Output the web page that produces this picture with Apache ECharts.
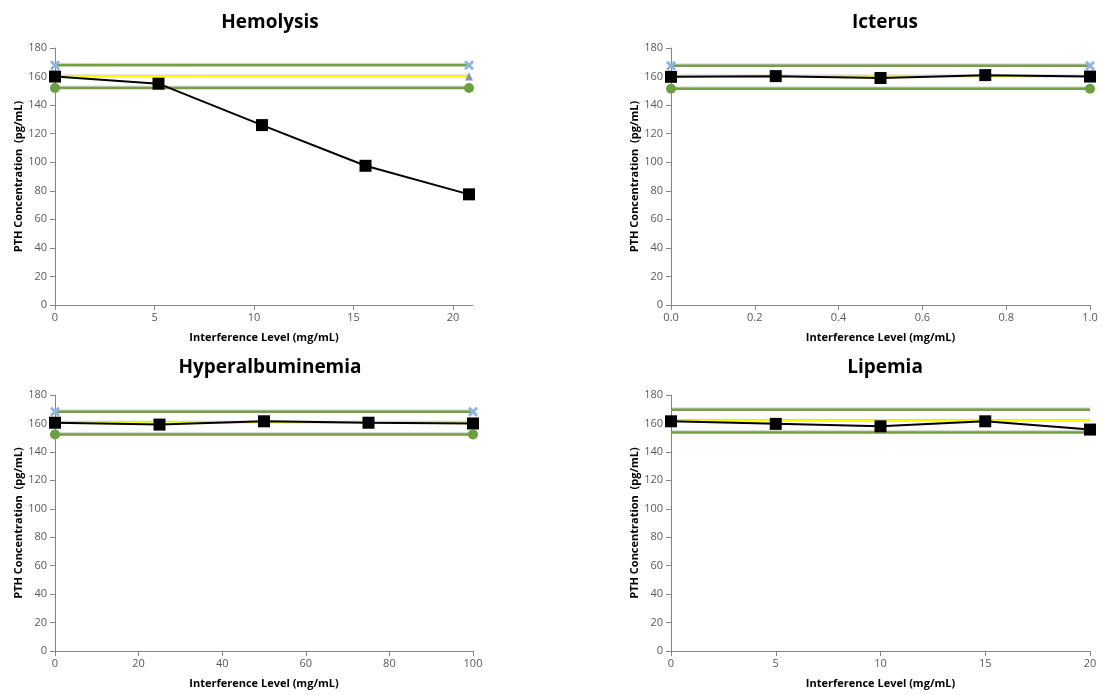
<!DOCTYPE html>
<html>
<head>
<meta charset="utf-8">
<script src="https://cdn.jsdelivr.net/npm/echarts@6/dist/echarts.min.js"></script>
<style>
  html, body { margin: 0; padding: 0; background: #fff; }
  #chart { width: 1103px; height: 695px; }
</style>
</head>
<body>
<div id="chart"></div>
<script>
// panel titles
var titles = ["Hemolysis", "Icterus", "Hyperalbuminemia", "Lipemia"];

// interference levels (x) per panel
var hemoX = [0, 5.2, 10.4, 15.6, 20.8];
var ictX = [0, 0.25, 0.5, 0.75, 1.0];
var albX = [0, 25, 50, 75, 100];
var lipX = [0, 5, 10, 15, 20];

// measured PTH (pg/mL)
var hemoY = [160, 155, 126, 97.5, 77.5];
var ictY = [159.8, 160.3, 159, 161, 160];
var albY = [160.5, 159.2, 161.5, 160.5, 160];
var lipY = [161.5, 159.7, 158, 161.5, 155.7];

// reference lines: upper limit, baseline, lower limit
var hemoRef = [168, 160, 152];
var ictRef = [167.5, 160, 151.5];
var albRef = [168.3, 160.5, 152.3];
var lipRef = [169.6, 161.8, 153.7];

// x-axis ranges [min, max, interval]
var xRanges = [[0, 21, 5], [0, 1, 0.2], [0, 100, 20], [0, 20, 5]];

var chart = echarts.init(document.getElementById("chart"));

var crossSym = "path://M2,0L5,3L8,0L10,2L7,5L10,8L8,10L5,7L2,10L0,8L3,5L0,2Z";

var grids = [
  { left: 55, right: 630, top: 48, bottom: 390 },
  { left: 671, right: 13, top: 48, bottom: 390 },
  { left: 55, right: 630, top: 395, bottom: 44 },
  { left: 671, right: 13, top: 395, bottom: 44 }
];

var labelFont = { color: "#595959", fontSize: 11, fontFamily: "Open Sans" };

function refLine(idx, xs, val, color, width, sym, symColor, symSize, z) {
  var last = xs[xs.length - 1];
  return {
    type: "line",
    xAxisIndex: idx,
    yAxisIndex: idx,
    data: [[xs[0], val], [last, val]],
    symbol: sym || "none",
    symbolSize: symSize || 8,
    showSymbol: !!sym,
    itemStyle: { color: symColor || color },
    lineStyle: {
      color: color,
      width: width,
      shadowColor: "rgba(0,0,0,0.2)",
      shadowBlur: 1,
      shadowOffsetY: -1
    },
    z: z || 2,
    silent: true,
    animation: false
  };
}

function dataLine(idx, xs, ys) {
  return {
    type: "line",
    xAxisIndex: idx,
    yAxisIndex: idx,
    data: xs.map(function (x, i) { return [x, ys[i]]; }),
    symbol: "rect",
    symbolSize: 12,
    itemStyle: { color: "#000" },
    lineStyle: { color: "#000", width: 2 },
    z: 5,
    animation: false
  };
}

var xs = [hemoX, ictX, albX, lipX];
var ys = [hemoY, ictY, albY, lipY];
var refs = [hemoRef, ictRef, albRef, lipRef];

var series = [];
for (var i = 0; i < 4; i++) {
  var r = refs[i];
  var withSym = i !== 3;
  series.push(refLine(i, xs[i], r[0], "#77A046", 2.5, withSym ? crossSym : null, "#8DB4E2", 10, 2));
  series.push(refLine(i, xs[i], r[1], "#FFFF00", 2, i === 0 ? "triangle" : null, "#8497B0", 8, 3));
  series.push(refLine(i, xs[i], r[2], "#77A046", 2.5, withSym ? "circle" : null, "#6AA13F", 10, 2));
  series.push(dataLine(i, xs[i], ys[i]));
}

var option = {
  backgroundColor: "#fff",
  title: titles.map(function (t, i) {
    return {
      text: t,
      left: i % 2 === 0 ? 265 : 880,
      top: i < 2 ? 8 : 353,
      textAlign: "center",
      textStyle: { fontSize: 19, fontWeight: "bold", color: "#000", fontFamily: "Open Sans" }
    };
  }),
  grid: grids,
  xAxis: xRanges.map(function (rg, i) {
    return {
      type: "value",
      gridIndex: i,
      min: rg[0],
      max: rg[1],
      interval: rg[2],
      name: "Interference Level (mg/mL)",
      nameLocation: "middle",
      nameGap: 27,
      nameTextStyle: { fontSize: 11, fontWeight: "bold", color: "#000", fontFamily: "Open Sans" },
      axisLine: { show: true, lineStyle: { color: "#868686", width: 1 } },
      axisTick: { show: true, length: 5, lineStyle: { color: "#868686" } },
      axisLabel: Object.assign({
        margin: 7,
        showMaxLabel: i !== 0,
        formatter: i === 1 ? function (v) { return v.toFixed(1); } : null
      }, labelFont),
      splitLine: { show: false }
    };
  }),
  yAxis: grids.map(function (g, i) {
    return {
      type: "value",
      gridIndex: i,
      min: 0,
      max: 180,
      interval: 20,
      name: "PTH Concentration  (pg/mL)",
      nameLocation: "middle",
      nameGap: 30,
      nameTextStyle: { fontSize: 11, fontWeight: "bold", color: "#000", fontFamily: "Open Sans" },
      axisLine: { show: true, lineStyle: { color: "#868686", width: 1 } },
      axisTick: { show: true, length: 5, lineStyle: { color: "#868686" } },
      axisLabel: Object.assign({ margin: 8 }, labelFont),
      splitLine: { show: false }
    };
  }),
  series: series
};

chart.setOption(option);
window.addEventListener("resize", function () { chart.resize(); });
</script>
</body>
</html>
